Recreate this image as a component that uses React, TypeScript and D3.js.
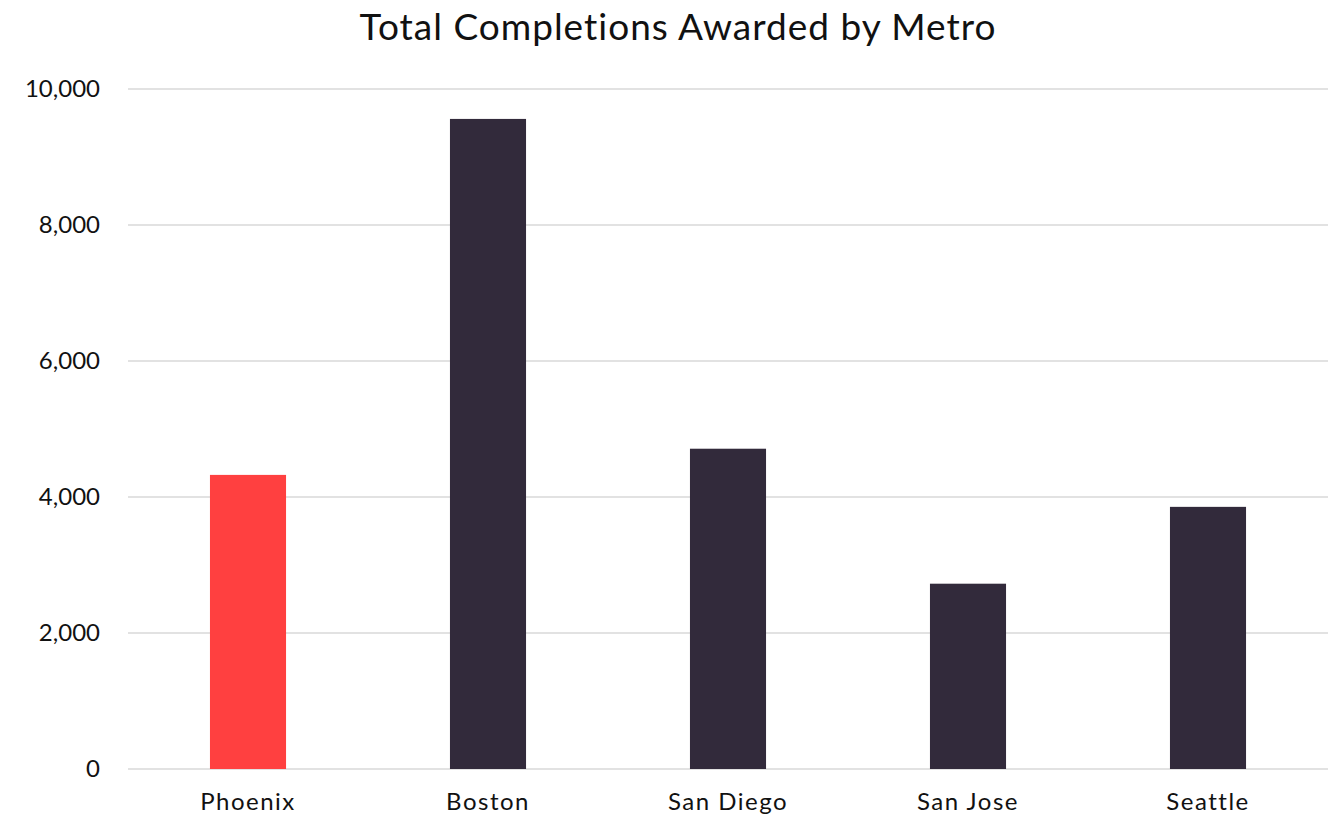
import { useRef, useEffect } from "react";
import * as d3 from "d3";

const metros = ["Phoenix", "Boston", "San Diego", "San Jose", "Seattle"];
const completions = [4325, 9560, 4710, 2725, 3855];
const yTicks = [0, 2000, 4000, 6000, 8000, 10000];

const width = 1331;
const height = 818;
const margin = { top: 89, right: 3, bottom: 49, left: 128 };

const App = () => {
  const svgRef = useRef<SVGSVGElement | null>(null);

  useEffect(() => {
    if (!svgRef.current) return;
    const svg = d3.select(svgRef.current);
    svg.selectAll("*").remove();

    const chartWidth = width - margin.left - margin.right;
    const chartHeight = height - margin.top - margin.bottom;

    const x = d3.scaleBand()
      .domain(metros)
      .range([0, 1200])
      .paddingInner(0.683)
      .paddingOuter(0.3415);

    const y = d3.scaleLinear().domain([0, 10000]).range([chartHeight, 0]);

    const font = "Lato, 'Noto Sans', sans-serif";

    svg.append("text")
      .attr("x", 678)
      .attr("y", 40)
      .attr("text-anchor", "middle")
      .attr("font-family", font)
      .attr("font-size", "37px")
      .attr("letter-spacing", "1px")
      .attr("fill", "#111")
      .text("Total Completions Awarded by Metro");

    const chart = svg.append("g")
      .attr("transform", `translate(${margin.left},${margin.top})`);

    // gridlines
    chart.selectAll(".grid")
      .data(yTicks)
      .enter()
      .append("line")
      .attr("x1", 0)
      .attr("x2", chartWidth)
      .attr("y1", d => y(d))
      .attr("y2", d => y(d))
      .attr("stroke", "#d9d9d9")
      .attr("stroke-width", 1.5);

    // y labels
    chart.selectAll(".ylabel")
      .data(yTicks)
      .enter()
      .append("text")
      .attr("x", -28)
      .attr("y", d => y(d))
      .attr("dy", "0.35em")
      .attr("text-anchor", "end")
      .attr("font-family", font)
      .attr("font-size", "24px")
      .attr("fill", "#111")
      .text(d => d3.format(",")(d));

    // bars
    chart.selectAll(".bar")
      .data(completions)
      .enter()
      .append("rect")
      .attr("x", (_, i) => x(metros[i]) || 0)
      .attr("width", x.bandwidth())
      .attr("y", d => y(d))
      .attr("height", d => chartHeight - y(d))
      .attr("fill", (_, i) => (i === 0 ? "#ff4040" : "#322a3b"));

    // x labels
    chart.selectAll(".xlabel")
      .data(metros)
      .enter()
      .append("text")
      .attr("x", d => (x(d) || 0) + x.bandwidth() / 2)
      .attr("y", chartHeight + 41)
      .attr("text-anchor", "middle")
      .attr("font-family", font)
      .attr("font-size", "24px")
      .attr("letter-spacing", "1.5px")
      .attr("fill", "#111")
      .text(d => d);
  }, []);

  return (
    <svg
      ref={svgRef}
      width={width}
      height={height}
      style={{ position: "absolute", left: 0, top: 0, background: "#fff" }}
    ></svg>
  );
};

export default App;
